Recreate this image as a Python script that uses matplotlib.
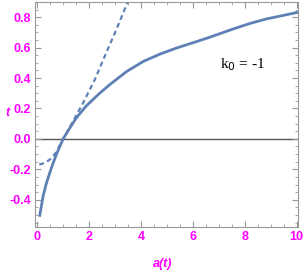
import numpy as np
import matplotlib.pyplot as plt
from matplotlib.ticker import MultipleLocator

# solid curve
a_solid = [0.10, 0.23, 0.36, 0.55, 0.74, 1.0, 1.26, 1.51, 1.90, 2.41, 2.81, 3.45,
           4.09, 4.73, 5.37, 6.01, 6.65, 7.55, 8.19, 8.83, 9.47, 10.0]
t_solid = [-0.503, -0.376, -0.289, -0.19, -0.103, 0.0, 0.072, 0.138, 0.218, 0.30,
           0.358, 0.443, 0.509, 0.557, 0.597, 0.632, 0.668, 0.722, 0.758, 0.788,
           0.811, 0.83]

# dashed curve
a_dash = [0.08, 0.30, 0.49, 0.72, 1.0, 1.36, 1.77, 2.22, 2.60, 3.05, 3.52]
t_dash = [-0.169, -0.157, -0.136, -0.092, 0.0, 0.109, 0.236, 0.389, 0.542, 0.717, 0.913]

blue = '#5E81B5'
mag = '#FF00FF'

fig = plt.figure(figsize=(3.05, 2.73), dpi=100)
ax = fig.add_axes([0.115, 0.168, 0.862, 0.825])

ax.axhline(0, color='#555555', lw=1.0, zorder=1)
ax.plot(a_solid, t_solid, color=blue, lw=2.0, zorder=2)
ax.plot(a_dash, t_dash, color=blue, lw=1.6, ls=(0, (2.2, 1.6)), zorder=2)

ax.set_xlim(-0.08, 10.05)
ax.set_ylim(-0.58, 0.9)

ax.xaxis.set_minor_locator(MultipleLocator(0.5))
ax.yaxis.set_minor_locator(MultipleLocator(0.05))
ax.set_xticks([0, 2, 4, 6, 8, 10])
ax.set_xticklabels(['0', '2', '4', '6', '8', '10'])
ax.set_yticks([-0.4, -0.2, 0.0, 0.2, 0.4, 0.6, 0.8])
ax.set_yticklabels(['-0.4', '-0.2', '0.0', '0.2', '0.4', '0.6', '0.8'])

ax.tick_params(which='both', direction='in', top=True, right=True, color='#999999',
               labelcolor=mag, labelsize=9, pad=3)
ax.tick_params(which='major', length=4, width=0.8)
ax.tick_params(which='minor', length=2, width=0.6)
for lab in ax.get_xticklabels() + ax.get_yticklabels():
    lab.set_fontweight('bold')
    lab.set_family('Liberation Sans')

for s in ax.spines.values():
    s.set_color('#999999')
    s.set_linewidth(0.8)

ax.set_xlabel('a(t)', color=mag, style='italic', fontweight='bold', fontsize=9,
              family='Liberation Sans')
ax.xaxis.set_label_coords(0.487, -0.138)
ax.set_ylabel('t', color=mag, style='italic', fontweight='bold', fontsize=9,
              family='Liberation Sans', rotation=0, va='center', ha='center')
ax.yaxis.set_label_coords(-0.103, 0.507)

ax.text(7.9, 0.485, r'k$_0$ = -1', family='Liberation Serif', fontsize=11,
        ha='center', va='center', color='black')

plt.savefig('out.png', dpi=100)
